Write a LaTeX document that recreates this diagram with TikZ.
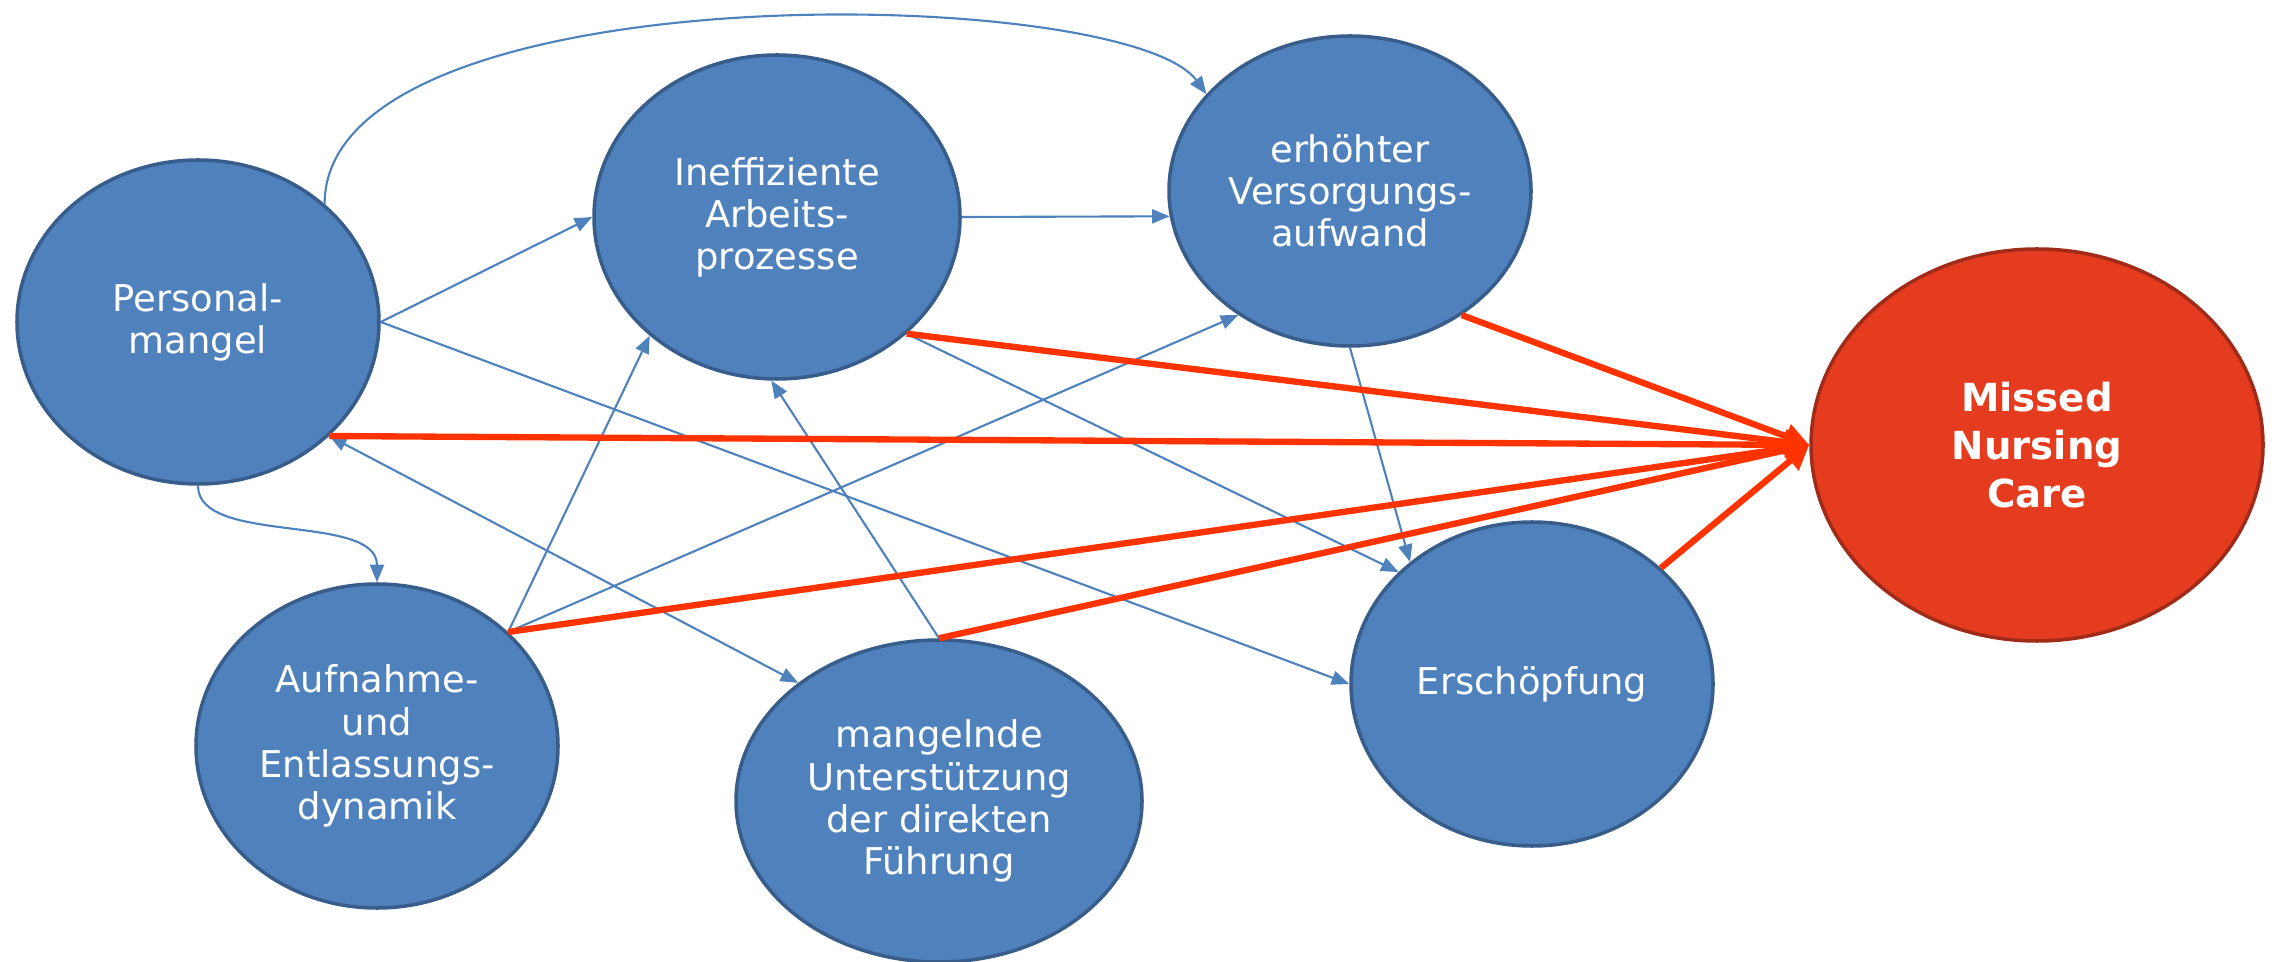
\documentclass[tikz,border=0pt]{standalone}
\usepackage{fontspec}
\setmainfont{DejaVu Sans}
\usetikzlibrary{shapes.geometric,arrows.meta}
\definecolor{nodeblue}{HTML}{4F81BD}
\definecolor{nodeborder}{HTML}{385D8A}
\definecolor{missedred}{HTML}{E53B1F}
\definecolor{missedborder}{HTML}{A02B18}
\definecolor{linkred}{HTML}{FF3300}
\begin{document}
\begin{tikzpicture}[
    factor/.style={ellipse, draw=nodeborder, line width=1pt, fill=nodeblue, text=white,
        inner sep=0pt, align=center, font=\fontsize{10.5}{12}\selectfont},
    link/.style={nodeblue, line width=0.6pt, -{Triangle[length=5pt,width=4pt]}},
    redlink/.style={linkred, line width=1.8pt, -{Triangle[length=7pt,width=7pt]}}
]
    \useasboundingbox (0,0) rectangle (22.72,9.61);

    %FACTORS
    \node[factor, minimum width=3.62cm, minimum height=3.24cm] (P) at (1.98,6.39) {Personal-\\mangel};
    \node[factor, minimum width=3.66cm, minimum height=3.24cm] (I) at (7.77,7.44) {Ineffiziente\\Arbeits-\\prozesse};
    \node[factor, minimum width=3.62cm, minimum height=3.10cm] (E) at (13.50,7.70) {erhöhter\\Versorgungs-\\aufwand};
    \node[factor, minimum width=3.62cm, minimum height=3.24cm] (A) at (3.77,2.15) {Aufnahme-\\und\\Entlassungs-\\dynamik};
    \node[factor, minimum width=4.06cm, minimum height=3.22cm] (U) at (9.39,1.60) {mangelnde\\Unterstützung\\der direkten\\Führung};
    \node[factor, minimum width=3.62cm, minimum height=3.24cm] (X) at (15.32,2.77) {Erschöpfung};

    %OUTCOME
    \node[factor, draw=missedborder, fill=missedred, minimum width=4.52cm, minimum height=3.92cm,
        font=\fontsize{11}{13.6}\selectfont\bfseries] (M) at (20.37,5.16) {Missed\\Nursing\\Care};

    %BLUE LINKS
    \draw[link] (P.east) -- (I.west);
    \draw[link] (P.43) .. controls +(0,2.35) and +(-0.8,1.1) .. (E.146);
    \draw[link] (P.south) .. controls +(0,-0.6) and +(0,0.7) .. (A.north);
    \draw[link] (P.east) -- (X.west);
    \draw[link, {Triangle[length=5pt,width=4pt]}-{Triangle[length=5pt,width=4pt]}] (P.-41) -- (U.140);
    \draw[link] (A.41) -- (I.-137);
    \draw[link] (A.41) -- (E.-132);
    \draw[link] (U.north) -- (I.-92);
    \draw[link] (I.east) -- (E.188);
    \draw[link] (I.-42) -- (X.140);
    \draw[link] (E.south) -- (X.135);

    %RED LINKS
    \draw[redlink] (I.-42) -- (M.west);
    \draw[redlink] (E.-48) -- (M.west);
    \draw[redlink] (P.-41) -- (M.west);
    \draw[redlink] (A.41) -- (M.west);
    \draw[redlink] (U.north) -- (M.west);
    \draw[redlink] (X.42) -- (M.west);
\end{tikzpicture}
\end{document}
